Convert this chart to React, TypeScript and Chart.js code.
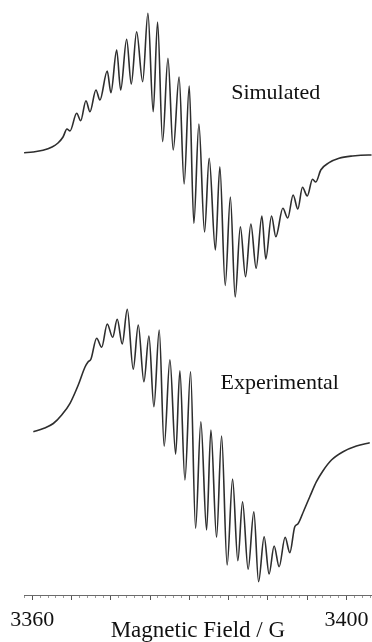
import { useEffect, useRef } from "react";
import { Chart, registerables } from "chart.js";

Chart.register(...registerables);

// Simulated spectrum: magnetic field (G) and derivative intensity (arb. units)
const simField = [
  3358.95, 3360.09, 3361.36, 3362.51, 3363.27, 3363.91, 3364.41, 3364.8,
  3365.65, 3366.16, 3366.83, 3367.34, 3368.1, 3368.61, 3369.54, 3370.01,
  3370.74, 3371.25, 3372.01, 3372.6, 3373.28, 3374.05, 3374.72, 3375.39,
  3375.95, 3376.59, 3377.27, 3377.94, 3378.69, 3379.33, 3379.98, 3380.57,
  3381.21, 3381.93, 3382.52, 3383.31, 3383.88, 3384.56, 3385.22, 3385.83,
  3386.49, 3387.15, 3387.83, 3388.5, 3389.23, 3389.73, 3390.46, 3391.01,
  3391.9, 3392.53, 3393.21, 3393.81, 3394.4, 3395.01, 3395.68, 3396.1,
  3396.73, 3397.79, 3399.06, 3400.77, 3402.8, 3403.22,
];
const simIntensity = [
  0.3, 1, 2.7, 6, 10, 16, 24, 22,
  39.7, 32.3, 52.3, 41.3, 63, 53, 82, 60.3,
  103, 63, 113.7, 69, 121.3, 71.3, 139.7, 41.3,
  131, 11.3, 94.7, 3, 76, -31, 67, -70.3,
  29, -79, -5.3, -97, -13.7, -132.5, -44, -144,
  -73.7, -123.7, -71, -115.3, -63, -106, -63, -83.7,
  -55.3, -65, -42, -56, -34.3, -43, -26.3, -29,
  -17, -9.7, -5.3, -3, -2, -2,
];

// Experimental spectrum
const expField = [
  3360.13, 3361.4, 3362.67, 3363.74, 3364.8, 3365.85, 3366.71, 3367.09,
  3367.47, 3368.19, 3368.83, 3369.54, 3370.23, 3370.81, 3371.45, 3372.09,
  3372.85, 3373.49, 3374.21, 3374.85, 3375.48, 3376.16, 3376.79, 3377.52,
  3378.25, 3378.79, 3379.43, 3380.15, 3380.79, 3381.46, 3382.19, 3382.74,
  3383.46, 3384.1, 3384.81, 3385.5, 3386.17, 3386.77, 3387.48, 3388.21,
  3388.81, 3389.52, 3390.15, 3390.79, 3391.43, 3392.19, 3392.79, 3393.42,
  3393.81, 3394.57, 3395.33, 3396.18, 3397.02, 3398.09, 3399.57, 3401.27,
  3402.97,
];
const expIntensity = [
  0.3, 3.5, 8.5, 17, 28.7, 47, 65, 70,
  73, 93.7, 84.7, 108, 94.7, 112.7, 88, 122.7,
  62.7, 107, 50.3, 96, 25.3, 102, -14.3, 72.3,
  -22.2, 61.3, -48, 60.3, -96.3, 10.3, -98, 2,
  -105.3, -4, -133, -47, -128.7, -69.7, -137.3, -79.7,
  -149.7, -104.7, -142, -114, -134.7, -105.3, -120.7, -94.7,
  -92, -78.7, -64.7, -49.7, -38.7, -28, -19.7, -14,
  -10.7,
];

// Vertical offsets used to stack the two traces
const simOffset = 442;
const expOffset = 163;

// Axis ticks
const majorTicks = [3360, 3365, 3370, 3375, 3380, 3385, 3390, 3395, 3400];
const labeledTicks = [3360, 3400];
const minorTicks = Array.from({ length: 45 }, (_, i) => 3359 + i);

// Trace labels
const spectrumLabels = ["Simulated", "Experimental"];
const labelField = [3391.0, 3391.5];
const labelLevel = [496, 206];

const FONT = '"Liberation Serif", "Times New Roman", serif';

const labelPlugin = {
  id: "spectrumLabels",
  afterDatasetsDraw(chart: any) {
    const { ctx, scales } = chart;
    const x = scales.x;
    const y = scales.y;
    ctx.save();
    ctx.font = `22px ${FONT}`;
    ctx.fillStyle = "#111";
    ctx.textAlign = "center";
    ctx.textBaseline = "alphabetic";
    spectrumLabels.forEach((t, i) => {
      ctx.fillText(t, x.getPixelForValue(labelField[i]), y.getPixelForValue(labelLevel[i]));
    });
    ctx.restore();
  },
};

export default function App() {
  const ref = useRef<HTMLCanvasElement | null>(null);

  useEffect(() => {
    if (!ref.current) return;
    const simData = simField.map((f, i) => ({ x: f, y: simIntensity[i] + simOffset }));
    const expData = expField.map((f, i) => ({ x: f, y: expIntensity[i] + expOffset }));
    const chart = new Chart(ref.current, {
      type: "line",
      data: {
        datasets: [
          {
            label: "Simulated",
            data: simData,
            borderColor: "#2e2e2e",
            borderWidth: 1.6,
            pointRadius: 0,
            cubicInterpolationMode: "monotone",
            fill: false,
          },
          {
            label: "Experimental",
            data: expData,
            borderColor: "#2e2e2e",
            borderWidth: 1.6,
            pointRadius: 0,
            cubicInterpolationMode: "monotone",
            fill: false,
          },
        ],
      },
      options: {
        animation: false,
        responsive: false,
        devicePixelRatio: 1,
        layout: { padding: { left: 24, right: 0, top: 0, bottom: 0 } },
        plugins: { legend: { display: false }, tooltip: { enabled: false } },
        scales: {
          x: {
            type: "linear",
            position: "bottom",
            min: 3358.94,
            max: 3403.22,
            afterBuildTicks: (s: any) => {
              s.ticks = minorTicks.map((v) => ({ value: v }));
            },
            afterFit: (s: any) => {
              s.height = 47;
            },
            border: { display: true, color: "#6a6a6a", width: 1 },
            grid: {
              drawOnChartArea: false,
              drawTicks: true,
              tickLength: 5,
              tickWidth: 1,
              tickColor: (c: any) =>
                c.tick && majorTicks.includes(c.tick.value) ? "#555" : "#999",
              tickBorderDash: (c: any) =>
                c.tick && majorTicks.includes(c.tick.value) ? [] : [2, 20],
            },
            ticks: {
              autoSkip: false,
              maxRotation: 0,
              minRotation: 0,
              padding: 2,
              color: "#111",
              font: { family: FONT, size: 22, lineHeight: 1.64 },
              callback: (v: any) => (labeledTicks.includes(Number(v)) ? String(v) : ""),
            },
            title: {
              display: true,
              text: "Magnetic Field / G",
              color: "#111",
              font: { family: FONT, size: 23, lineHeight: 1 },
              padding: 0,
            },
          },
          y: { display: false, min: 0, max: 595 },
        },
      },
      plugins: [labelPlugin],
    });
    return () => chart.destroy();
  }, []);

  return (
    <div style={{ position: "absolute", left: 0, top: 0, width: 372, height: 642, background: "#fff" }}>
      <canvas ref={ref} width={372} height={642} style={{ display: "block" }} />
    </div>
  );
}
